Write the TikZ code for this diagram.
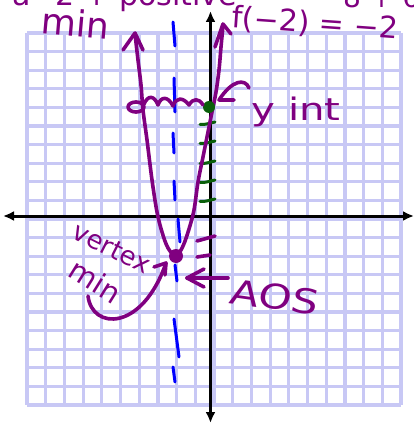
\documentclass[tikz,border=0pt]{standalone}
\usepackage{fontspec}
\setmainfont{DejaVu Sans}
\usetikzlibrary{arrows.meta}
\definecolor{hpurple}{RGB}{128,0,128}
\definecolor{hblue}{RGB}{0,0,255}
\definecolor{hgreen}{RGB}{10,95,10}
\definecolor{gridc}{RGB}{200,200,245}
\begin{document}
\begin{tikzpicture}[x=1pt,y=-1pt,
  gridline/.style={gridc,line width=3.2pt},
  axisline/.style={black,line width=3pt,-{Latex[length=11pt,width=10pt]}},
  pline/.style={hpurple,line width=3.6pt,line cap=round,line join=round},
  bline/.style={hblue,line width=3pt,line cap=round},
  gline/.style={hgreen,line width=3pt,line cap=round},
  hand/.style={hpurple,inner sep=0pt,font=\fontsize{#1}{#1}\selectfont},
  hand/.default=30]
\useasboundingbox (0,0) rectangle (414,425);
\clip (0,0) rectangle (414,425);
\fill[white] (0,0) rectangle (414,425);
% grid
\foreach \i in {0,...,20}{
  \draw[gridline] ({27+18.7*\i},33) -- ({27+18.7*\i},405);
  \draw[gridline] (27,{33+18.6*\i}) -- (401,{33+18.6*\i});
}
% axes
\coordinate (ytop) at (210.5,11);
\coordinate (ybot) at (210.5,423);
\coordinate (xl) at (3,216);
\coordinate (xr) at (414,216);
\coordinate (o) at (210.5,216);
\draw[axisline] (o) -- (ytop);
\draw[axisline] (o) -- (ybot);
\draw[axisline] (o) -- (xl);
\draw[axisline] (o) -- (xr);
% axis of symmetry (blue dashes)
\foreach \a/\b/\c/\d in {173/22/175/46, 174/78/175/112, 173/133/174/153, 174/181/175/200, 178/219/180/242, 175/265/177/281, 174/319/179/357, 173/367/175/382}
  \draw[bline] (\a,\b) -- (\c,\d);
% green ticks
\foreach \y in {123,142,162,181,200}
  \draw[gline] (200,\y+1.5) .. controls (205,\y+2) and (210,\y) .. (215,\y-1);
% purple ticks below x-axis
\draw[pline] (197,241) -- (215,236);
\draw[pline] (197,257) -- (210,255);
% parabola
\coordinate (vtx) at (176,256);
\coordinate (yint) at (209,107);
\coordinate (lpt) at (136,107);
\draw[pline] plot[smooth,tension=0.55] coordinates {(135,34) (138,60) (141,85) (143,110) (147,140) (152,180) (157,212) (162,232) (168,248) (176,256) (183,246) (189,229) (194,210) (198,182) (203,157) (207,137) (212,112) (216,92) (219,70) (221,47) (223,26)};
\draw[pline] (123,50) -- (135,33) -- (143,50);
\draw[pline] (215,47) -- (223,24) -- (231,34);
% points
\fill[hpurple] (vtx) circle (7);
\fill[hgreen] (yint) circle (6);
% wavy line between symmetric points
\draw[pline] (lpt) ellipse [x radius=8, y radius=5];
\draw[pline] (144,104) .. controls (148,95) and (154,95) .. (158,105)
  .. controls (161,96) and (168,96) .. (173,106)
  .. controls (176,97) and (183,97) .. (189,105)
  .. controls (193,98) and (199,98) .. (203,105);
% y-int label and arrow
\node[hand=31,anchor=base,xscale=1.3] (ylab) at (296,121) {y int};
\coordinate (ytip) at (219,100);
\draw[pline] (249,88) .. controls (245,78) and (232,80) .. (ytip) -- (234,100);
% AOS label and arrow
\node[hand=34,xscale=1.25,rotate=-10] (aos) at (275,297) {AOS};
\coordinate (atip) at (187,278);
\draw[pline] (228,278) -- (atip);
\draw[pline] (204,269) -- (atip) -- (204,287);
% vertex label
\node[hand=26,rotate=-27] (vlab) at (112,248) {vertex};
\node[hand=29,rotate=-32] (mlab) at (96,281) {min};
\coordinate (vtip) at (166,263);
\draw[pline] (88,296) .. controls (92,330) and (142,332) .. (vtip);
\draw[pline] (154,267) -- (vtip) -- (165,275);
% top labels
\node[hand=36,rotate=-5] (minlab) at (76,23) {min};
\node[hand=30,rotate=-4] (flab) at (315,24) {f(−2) = −2};
\node[hand=30,anchor=base west] (alab) at (12,6) {a=2 ↑ positive};
\node[hand=28,anchor=base west] (clab) at (343,8) {8 + 6};
\end{tikzpicture}
\end{document}
